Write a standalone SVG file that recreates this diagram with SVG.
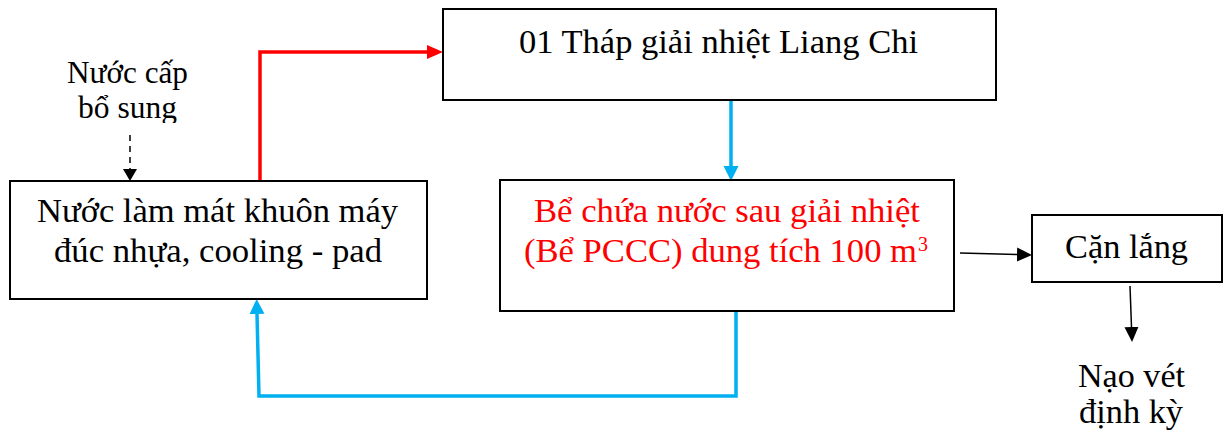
<svg xmlns="http://www.w3.org/2000/svg" width="1225" height="432" viewBox="0 0 1225 432">
<style>
.box{fill:#fff;stroke:#000;stroke-width:2}
.t{font-family:'Liberation Serif','Times New Roman',serif;font-size:34.5px;fill:#000}
.s{font-family:'Liberation Serif','Times New Roman',serif;font-size:31.5px;fill:#000}
.red{fill:#ff0000}
.lr{fill:none;stroke:#ff0000;stroke-width:3.5}
.lb{fill:none;stroke:#00b0f0;stroke-width:3.5}
.lk{fill:none;stroke:#000;stroke-width:1.5}
.ld{fill:none;stroke:#000;stroke-width:1.5;stroke-dasharray:6 5}
</style>
<defs>
<marker id="aR" markerUnits="userSpaceOnUse" viewBox="0 -8 16 16" markerWidth="16" markerHeight="16" refX="0" refY="0" orient="auto"><path d="M0,-7 L16,0 L0,7 z" fill="#ff0000"/></marker>
<marker id="aB" markerUnits="userSpaceOnUse" viewBox="0 -8 16 16" markerWidth="16" markerHeight="16" refX="0" refY="0" orient="auto"><path d="M0,-7.5 L15,0 L0,7.5 z" fill="#00b0f0"/></marker>
<marker id="aK" markerUnits="userSpaceOnUse" viewBox="0 -8 16 16" markerWidth="16" markerHeight="16" refX="0" refY="0" orient="auto"><path d="M0,-7 L15,0 L0,7 z" fill="#000"/></marker>
<marker id="aD" markerUnits="userSpaceOnUse" viewBox="0 -8 16 16" markerWidth="16" markerHeight="16" refX="0" refY="0" orient="auto"><path d="M0,-7 L12,0 L0,7 z" fill="#000"/></marker>
<clipPath id="clipSup"><rect x="0" y="0" width="300" height="123"/></clipPath>
</defs>

<g id="connectors">
<path class="ld" d="M130,135 L130,169" marker-end="url(#aD)"/>
<path class="lr" d="M260,181 L260,52 L427,52" marker-end="url(#aR)"/>
<path class="lb" d="M731,100 L731,166" marker-end="url(#aB)"/>
<path class="lb" d="M736,311 L736,396 L259,396 L257,314" marker-end="url(#aB)"/>
<path class="lk" d="M960,253 L1017,254.6" marker-end="url(#aK)"/>
<path class="lk" d="M1130,286 L1131.5,327" marker-end="url(#aK)"/>
</g>

<g id="node-nuoc-cap">
<g clip-path="url(#clipSup)">
<text class="s" x="67" y="83" textLength="121" lengthAdjust="spacingAndGlyphs">Nước cấp</text>
<text class="s" x="78" y="118" textLength="99" lengthAdjust="spacingAndGlyphs">bổ sung</text>
</g>
</g>

<g id="node-lam-mat">
<rect class="box" x="10" y="181" width="417" height="118"/>
<text class="t" x="37" y="222" textLength="361" lengthAdjust="spacingAndGlyphs">Nước làm mát khuôn máy</text>
<text class="t" x="54" y="262" textLength="328" lengthAdjust="spacingAndGlyphs">đúc nhựa, cooling - pad</text>
</g>

<g id="node-thap">
<rect class="box" x="443" y="9" width="553" height="91"/>
<text class="t" x="519" y="53" textLength="399" lengthAdjust="spacingAndGlyphs">01 Tháp giải nhiệt Liang Chi</text>
</g>

<g id="node-be-chua">
<rect class="box" x="500" y="180" width="454" height="131"/>
<text class="t red" x="534" y="222" textLength="386" lengthAdjust="spacingAndGlyphs">Bể chứa nước sau giải nhiệt</text>
<text class="t red" x="524" y="262" textLength="393" lengthAdjust="spacingAndGlyphs">(Bể PCCC) dung tích 100 m</text>
<text class="t red" x="918" y="251" style="font-size:20px">3</text>
</g>

<g id="node-can-lang">
<rect class="box" x="1032" y="215" width="190" height="67"/>
<text class="t" x="1065" y="258" textLength="123" lengthAdjust="spacingAndGlyphs">Cặn lắng</text>
</g>

<g id="node-nao-vet">
<text class="t" x="1078" y="387" textLength="107" lengthAdjust="spacingAndGlyphs">Nạo vét</text>
<text class="t" x="1079" y="423" textLength="104" lengthAdjust="spacingAndGlyphs">định kỳ</text>
</g>
</svg>
